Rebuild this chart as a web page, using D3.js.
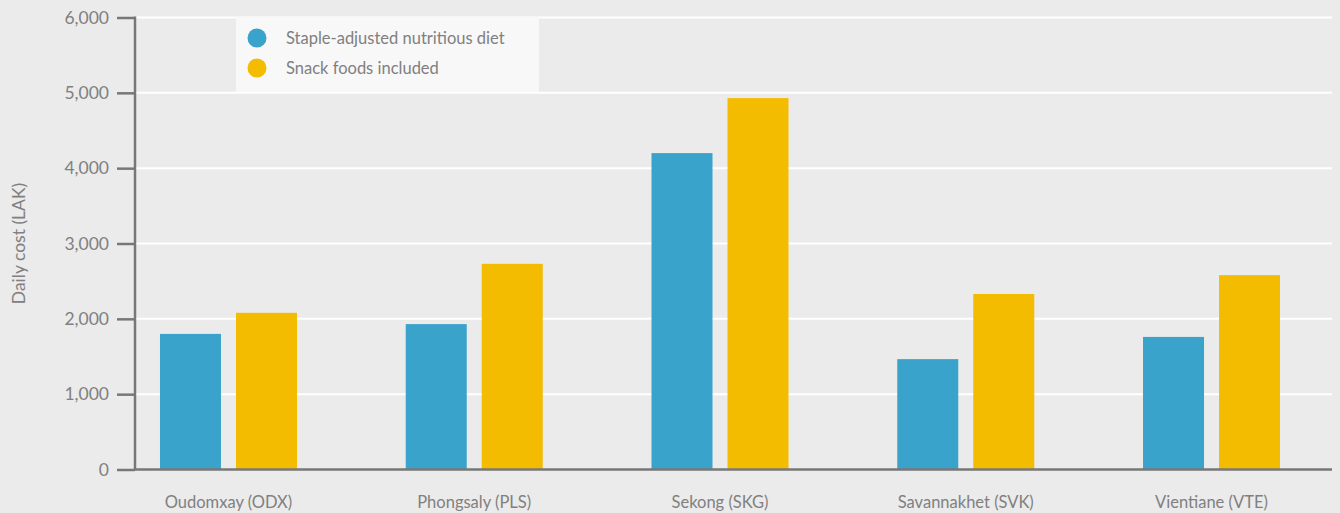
<!DOCTYPE html>
<html>
<head>
<meta charset="utf-8">
<script src="https://cdn.jsdelivr.net/npm/d3@7"></script>
<style>
  html, body { margin: 0; padding: 0; background: #ebebeb; }
  svg { display: block; }
  text { font-family: Lato, "Open Sans", sans-serif; fill: #808080; font-weight: 400; }
</style>
</head>
<body>
<div id="chart"></div>
<script>
// Daily cost of diets by province (LAK)
const provinces = ["Oudomxay (ODX)", "Phongsaly (PLS)", "Sekong (SKG)", "Savannakhet (SVK)", "Vientiane (VTE)"];
const seriesNames = ["Staple-adjusted nutritious diet", "Snack foods included"];
const stapleAdjusted = [1800, 1930, 4200, 1465, 1760];
const snackIncluded = [2080, 2730, 4930, 2330, 2580];
const yTicks = [0, 1000, 2000, 3000, 4000, 5000, 6000];
const seriesColors = ["#39a3cb", "#f3bc00"];

const W = 1340, H = 513;
const plot = { left: 135, right: 1332, top: 17.5, bottom: 469.5 };

const svg = d3.select("#chart").append("svg")
  .attr("width", W).attr("height", H);

svg.append("rect").attr("width", W).attr("height", H).attr("fill", "#ebebeb");

const y = d3.scaleLinear().domain([0, 6000]).range([plot.bottom, plot.top]);

const x = d3.scaleBand().domain(provinces).range([105.6, 1334.4]).padding(0);
const inner = d3.scaleBand().domain(seriesNames)
  .range([-68.5, 68.5]).paddingInner(15 / 76).paddingOuter(0);

// horizontal gridlines
svg.append("g").selectAll("line").data(yTicks.filter(d => d > 0)).join("line")
  .attr("x1", plot.left).attr("x2", plot.right)
  .attr("y1", d => y(d)).attr("y2", d => y(d))
  .attr("stroke", "#ffffff").attr("stroke-width", 2);

// legend panel
const legend = svg.append("g");
legend.append("rect")
  .attr("x", 236).attr("y", 17).attr("width", 303).attr("height", 75)
  .attr("fill", "#f8f8f8");
seriesNames.forEach((name, i) => {
  const ly = 38 + i * 30;
  legend.append("circle").attr("cx", 257).attr("cy", ly).attr("r", 9.5)
    .attr("fill", seriesColors[i]);
  legend.append("text").attr("x", 286).attr("y", ly).attr("dy", "0.35em")
    .attr("font-size", 16.5).text(name);
});

// bars
const rows = provinces.map((p, i) => ({ province: p, values: [stapleAdjusted[i], snackIncluded[i]] }));
const groups = svg.append("g").selectAll("g").data(rows).join("g")
  .attr("transform", d => `translate(${x(d.province) + x.bandwidth() / 2},0)`);
groups.selectAll("rect")
  .data(d => d.values.map((v, j) => ({ name: seriesNames[j], value: v, color: seriesColors[j] })))
  .join("rect")
  .attr("x", d => inner(d.name))
  .attr("width", inner.bandwidth())
  .attr("y", d => y(d.value))
  .attr("height", d => y(0) - y(d.value))
  .attr("fill", d => d.color);

// y axis
const yAxis = svg.append("g").attr("transform", `translate(${plot.left},0)`)
  .call(d3.axisLeft(y).tickValues(yTicks).tickSize(18).tickPadding(8)
    .tickFormat(d3.format(",")));
yAxis.select(".domain").remove();
yAxis.selectAll(".tick line").attr("stroke", "#777").attr("stroke-width", 2.5);
yAxis.selectAll(".tick text").attr("font-size", 17.5).attr("fill", "#808080")
  .attr("font-family", "Lato, 'Open Sans', sans-serif");
yAxis.append("line").attr("x1", 0).attr("x2", 0)
  .attr("y1", plot.top - 1).attr("y2", plot.bottom)
  .attr("stroke", "#777").attr("stroke-width", 2.5);

// x axis baseline and category labels
svg.append("line").attr("x1", plot.left).attr("x2", plot.right)
  .attr("y1", plot.bottom).attr("y2", plot.bottom)
  .attr("stroke", "#777").attr("stroke-width", 2.5);
svg.append("g").selectAll("text").data(provinces).join("text")
  .attr("x", d => x(d) + x.bandwidth() / 2)
  .attr("y", 508)
  .attr("text-anchor", "middle")
  .attr("font-size", 16.5)
  .text(d => d);

// y axis title
svg.append("text")
  .attr("transform", `translate(25,${(plot.top + plot.bottom) / 2}) rotate(-90)`)
  .attr("text-anchor", "middle")
  .attr("font-size", 17.5)
  .text("Daily cost (LAK)");
</script>
</body>
</html>
